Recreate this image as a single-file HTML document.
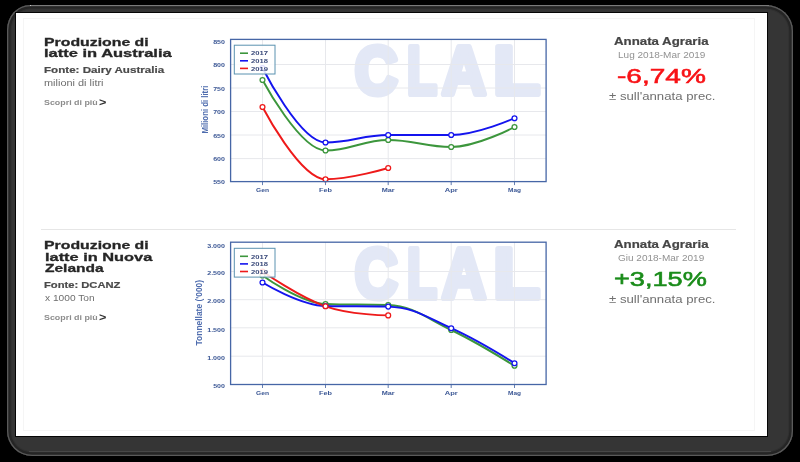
<!DOCTYPE html>
<html lang="it">
<head>
<meta charset="utf-8">
<title>Produzione di latte - Australia e Nuova Zelanda</title>
<style>
html,body{margin:0;padding:0;background:#000;}
body{width:800px;height:462px;position:relative;overflow:hidden;font-family:"Liberation Sans", sans-serif;}
/* dark bevelled device-like frame */
.frame{position:absolute;left:7px;top:4.8px;width:786.3px;height:451px;border-radius:23px 27px 26px 25px / 25px 26px 25px 25px;background:#353535;
  box-shadow:inset 0 0 0 1.3px #5a5a5a, inset 0 0 0 3.6px #252525, inset 0 0 0 4.6px #303030;}
.frame:before{content:"";position:absolute;left:24px;right:24px;top:0;height:1.3px;background:#7a7a7a;}
.frame:after{content:"";position:absolute;left:22px;right:22px;bottom:3.4px;height:1.7px;background:#474747;}
.glint{position:absolute;left:29.6px;top:4.9px;width:1.8px;height:1.2px;background:#e8e8e8;border-radius:1px;}
/* white page inside the frame */
.page{position:absolute;left:16px;top:13px;width:751.4px;height:423px;background:#fff;box-shadow:0 0 0 1px #050505;}
.panel{position:absolute;left:22.6px;top:18.2px;width:732.4px;height:413.3px;border:1px solid #f5f5f5;box-sizing:border-box;}
.sep{position:absolute;left:40.5px;top:229px;width:695.5px;height:1px;background:#e6e6e6;margin:0;border:0;}
/* content: everything is pinned to target pixel positions */
.soft{filter:blur(0.45px);}
.soft h2,.soft h3,.soft p{margin:0;padding:0;font:inherit;}
.soft a{color:inherit;text-decoration:none;}
.t{position:absolute;white-space:pre;line-height:1;transform-origin:0 0;display:block;}
svg.chart{position:absolute;left:0;top:0;}
svg.chart text{font-family:"Liberation Sans", sans-serif;}
</style>
</head>
<body>
<div class="frame"></div>
<div class="glint"></div>
<div class="page"></div>
<div class="panel"></div>
<main class="soft">
<section class="row" id="australia">
<div class="info">
<h2>
<span class="t" style="left:44.34px;top:37px;font-size:11.2px;font-weight:bold;color:#262626;transform:scaleX(1.4152);-webkit-text-stroke:0.3px #262626;">Produzione di</span>
<span class="t" style="left:44.49px;top:48px;font-size:11.2px;font-weight:bold;color:#262626;transform:scaleX(1.4744);-webkit-text-stroke:0.3px #262626;">latte in Australia</span>
</h2>
<p class="src">
<span class="t" style="left:43.86px;top:66px;font-size:9.3px;font-weight:bold;color:#4a4a4a;transform:scaleX(1.2482);-webkit-text-stroke:0.2px #4a4a4a;">Fonte: Dairy Australia</span>
</p>
<p class="unit">
<span class="t" style="left:44.16px;top:79px;font-size:8.5px;font-weight:normal;color:#6e6e6e;transform:scaleX(1.2862);">milioni di litri</span>
</p>
<a class="more">
<span class="t" style="left:44.09px;top:99px;font-size:7.2px;font-weight:bold;color:#8c8c8c;transform:scaleX(1.2351);">Scopri di più</span>
<span class="t" style="left:99.39px;top:98px;font-size:10.4px;font-weight:bold;color:#333;transform:scaleX(1.2190);">></span>
</a>
</div>
<svg class="chart" width="800" height="462" viewBox="0 0 800 462" role="img">
<text class="wm" y="93.90" font-size="69.19" font-weight="bold" fill="#e3e8f6" stroke="#e3e8f6" stroke-width="6.2" stroke-linejoin="round"><tspan x="354.67" textLength="42.86" lengthAdjust="spacingAndGlyphs">C</tspan><tspan x="407.03" textLength="29.88" lengthAdjust="spacingAndGlyphs">L</tspan><tspan x="442.09" textLength="43.92" lengthAdjust="spacingAndGlyphs">A</tspan><tspan x="493.64" textLength="46.18" lengthAdjust="spacingAndGlyphs">L</tspan></text>
<line x1="230.6" x2="546.1" y1="64.5" y2="64.5" stroke="#e7e8ec" stroke-width="1"/>
<line x1="230.6" x2="546.1" y1="88.0" y2="88.0" stroke="#e7e8ec" stroke-width="1"/>
<line x1="230.6" x2="546.1" y1="111.5" y2="111.5" stroke="#e7e8ec" stroke-width="1"/>
<line x1="230.6" x2="546.1" y1="135.0" y2="135.0" stroke="#e7e8ec" stroke-width="1"/>
<line x1="230.6" x2="546.1" y1="158.6" y2="158.6" stroke="#e7e8ec" stroke-width="1"/>
<line x1="262.5" x2="262.5" y1="39.4" y2="185.1" stroke="#e7e8ec" stroke-width="1"/>
<line x1="325.5" x2="325.5" y1="39.4" y2="185.1" stroke="#e7e8ec" stroke-width="1"/>
<line x1="388.2" x2="388.2" y1="39.4" y2="185.1" stroke="#e7e8ec" stroke-width="1"/>
<line x1="451.2" x2="451.2" y1="39.4" y2="185.1" stroke="#e7e8ec" stroke-width="1"/>
<line x1="514.5" x2="514.5" y1="39.4" y2="185.1" stroke="#e7e8ec" stroke-width="1"/>
<path d="M262.50,80.00 C262.50,80.00 300.30,150.50 325.50,150.50 C350.58,150.50 363.12,140.00 388.20,140.00 C413.40,140.00 426.00,147.00 451.20,147.00 C476.52,147.00 514.50,127.00 514.50,127.00" fill="none" stroke="#3c963c" stroke-width="1.95" stroke-linecap="round"/>
<path d="M262.50,68.00 C262.50,68.00 300.30,142.50 325.50,142.50 C350.58,142.50 363.12,135.00 388.20,135.00 C413.40,135.00 426.00,135.00 451.20,135.00 C476.52,135.00 514.50,118.20 514.50,118.20" fill="none" stroke="#1414ee" stroke-width="1.95" stroke-linecap="round"/>
<path d="M262.50,107.00 C262.50,107.00 300.30,179.20 325.50,179.20 C350.58,179.20 388.20,168.00 388.20,168.00" fill="none" stroke="#ee1a1a" stroke-width="1.95" stroke-linecap="round"/>
<circle cx="262.5" cy="80.0" r="2.45" fill="#fff" stroke="#3c963c" stroke-width="1.25"/>
<circle cx="325.5" cy="150.5" r="2.45" fill="#fff" stroke="#3c963c" stroke-width="1.25"/>
<circle cx="388.2" cy="140.0" r="2.45" fill="#fff" stroke="#3c963c" stroke-width="1.25"/>
<circle cx="451.2" cy="147.0" r="2.45" fill="#fff" stroke="#3c963c" stroke-width="1.25"/>
<circle cx="514.5" cy="127.0" r="2.45" fill="#fff" stroke="#3c963c" stroke-width="1.25"/>
<circle cx="262.5" cy="68.0" r="2.45" fill="#fff" stroke="#1414ee" stroke-width="1.25"/>
<circle cx="325.5" cy="142.5" r="2.45" fill="#fff" stroke="#1414ee" stroke-width="1.25"/>
<circle cx="388.2" cy="135.0" r="2.45" fill="#fff" stroke="#1414ee" stroke-width="1.25"/>
<circle cx="451.2" cy="135.0" r="2.45" fill="#fff" stroke="#1414ee" stroke-width="1.25"/>
<circle cx="514.5" cy="118.2" r="2.45" fill="#fff" stroke="#1414ee" stroke-width="1.25"/>
<circle cx="262.5" cy="107.0" r="2.45" fill="#fff" stroke="#ee1a1a" stroke-width="1.25"/>
<circle cx="325.5" cy="179.2" r="2.45" fill="#fff" stroke="#ee1a1a" stroke-width="1.25"/>
<circle cx="388.2" cy="168.0" r="2.45" fill="#fff" stroke="#ee1a1a" stroke-width="1.25"/>
<rect x="230.6" y="39.4" width="315.5" height="142.2" fill="none" stroke="#4666a6" stroke-width="1.3"/>
<line x1="262.5" x2="262.5" y1="181.6" y2="185.1" stroke="#4666a6" stroke-width="0.8"/>
<line x1="325.5" x2="325.5" y1="181.6" y2="185.1" stroke="#4666a6" stroke-width="0.8"/>
<line x1="388.2" x2="388.2" y1="181.6" y2="185.1" stroke="#4666a6" stroke-width="0.8"/>
<line x1="451.2" x2="451.2" y1="181.6" y2="185.1" stroke="#4666a6" stroke-width="0.8"/>
<line x1="514.5" x2="514.5" y1="181.6" y2="185.1" stroke="#4666a6" stroke-width="0.8"/>
<rect x="234.3" y="45.2" width="40.7" height="28.8" fill="#fff" fill-opacity="0.86" stroke="#5a92b0" stroke-width="1"/>
<line x1="240" x2="248" y1="53.2" y2="53.2" stroke="#3c963c" stroke-width="1.6"/>
<text x="251" y="55.4" font-size="6.2" font-weight="bold" fill="#3a4a7a" textLength="17" lengthAdjust="spacingAndGlyphs">2017</text>
<line x1="240" x2="248" y1="60.8" y2="60.8" stroke="#1414ee" stroke-width="1.6"/>
<text x="251" y="63.0" font-size="6.2" font-weight="bold" fill="#3a4a7a" textLength="17" lengthAdjust="spacingAndGlyphs">2018</text>
<line x1="240" x2="248" y1="68.4" y2="68.4" stroke="#ee1a1a" stroke-width="1.6"/>
<text x="251" y="70.6" font-size="6.2" font-weight="bold" fill="#3a4a7a" textLength="17" lengthAdjust="spacingAndGlyphs">2019</text>
<text x="213.2" y="43.9" font-size="5.9" font-weight="bold" fill="#3a5694" textLength="11.8" lengthAdjust="spacingAndGlyphs">850</text>
<text x="213.2" y="67.2" font-size="5.9" font-weight="bold" fill="#3a5694" textLength="11.8" lengthAdjust="spacingAndGlyphs">800</text>
<text x="213.2" y="90.7" font-size="5.9" font-weight="bold" fill="#3a5694" textLength="11.8" lengthAdjust="spacingAndGlyphs">750</text>
<text x="213.2" y="114.2" font-size="5.9" font-weight="bold" fill="#3a5694" textLength="11.8" lengthAdjust="spacingAndGlyphs">700</text>
<text x="213.2" y="137.7" font-size="5.9" font-weight="bold" fill="#3a5694" textLength="11.8" lengthAdjust="spacingAndGlyphs">650</text>
<text x="213.2" y="161.3" font-size="5.9" font-weight="bold" fill="#3a5694" textLength="11.8" lengthAdjust="spacingAndGlyphs">600</text>
<text x="213.2" y="184.3" font-size="5.9" font-weight="bold" fill="#3a5694" textLength="11.8" lengthAdjust="spacingAndGlyphs">550</text>
<text x="256.0" y="192.2" font-size="5.9" font-weight="bold" fill="#3a5694" textLength="13" lengthAdjust="spacingAndGlyphs">Gen</text>
<text x="319.0" y="192.2" font-size="5.9" font-weight="bold" fill="#3a5694" textLength="13" lengthAdjust="spacingAndGlyphs">Feb</text>
<text x="381.7" y="192.2" font-size="5.9" font-weight="bold" fill="#3a5694" textLength="13" lengthAdjust="spacingAndGlyphs">Mar</text>
<text x="444.7" y="192.2" font-size="5.9" font-weight="bold" fill="#3a5694" textLength="13" lengthAdjust="spacingAndGlyphs">Apr</text>
<text x="508.0" y="192.2" font-size="5.9" font-weight="bold" fill="#3a5694" textLength="13" lengthAdjust="spacingAndGlyphs">Mag</text>
<text transform="translate(207.9,133.6) rotate(-90)" font-size="8.8" font-weight="bold" fill="#4e6cae" textLength="48" lengthAdjust="spacingAndGlyphs">Milioni di litri</text>
</svg>
<div class="stat">
<h3>
<span class="t" style="left:613.88px;top:37px;font-size:10.4px;font-weight:bold;color:#464646;transform:scaleX(1.2757);-webkit-text-stroke:0.2px #464646;">Annata Agraria</span>
</h3>
<p class="period">
<span class="t" style="left:618.09px;top:51px;font-size:8.3px;font-weight:normal;color:#929292;transform:scaleX(1.2070);">Lug 2018-Mar 2019</span>
</p>
<p class="value">
<span class="t" style="left:616.93px;top:67px;font-size:19.6px;font-weight:normal;color:#f81216;transform:scaleX(1.4321);-webkit-text-stroke:0.55px #f81216;">-6,74%</span>
</p>
<p class="note">
<span class="t" style="left:608.68px;top:92px;font-size:10.4px;font-weight:normal;color:#707070;transform:scaleX(1.2689);">± sull'annata prec.</span>
</p>
</div>
</section>
<hr class="sep">
<section class="row" id="nuova-zelanda">
<div class="info">
<h2>
<span class="t" style="left:44.34px;top:240px;font-size:11.2px;font-weight:bold;color:#262626;transform:scaleX(1.4152);-webkit-text-stroke:0.3px #262626;">Produzione di</span>
<span class="t" style="left:44.50px;top:252px;font-size:11.2px;font-weight:bold;color:#262626;transform:scaleX(1.4625);-webkit-text-stroke:0.3px #262626;">latte in Nuova</span>
<span class="t" style="left:44.85px;top:263px;font-size:11.2px;font-weight:bold;color:#262626;transform:scaleX(1.3870);-webkit-text-stroke:0.3px #262626;">Zelanda</span>
</h2>
<p class="src">
<span class="t" style="left:43.90px;top:281px;font-size:9.3px;font-weight:bold;color:#4a4a4a;transform:scaleX(1.2032);-webkit-text-stroke:0.2px #4a4a4a;">Fonte: DCANZ</span>
</p>
<p class="unit">
<span class="t" style="left:44.50px;top:294px;font-size:8.5px;font-weight:normal;color:#6e6e6e;transform:scaleX(1.1975);">x 1000 Ton</span>
</p>
<a class="more">
<span class="t" style="left:44.09px;top:314px;font-size:7.2px;font-weight:bold;color:#8c8c8c;transform:scaleX(1.2351);">Scopri di più</span>
<span class="t" style="left:99.39px;top:313px;font-size:10.4px;font-weight:bold;color:#333;transform:scaleX(1.2190);">></span>
</a>
</div>
<svg class="chart" width="800" height="462" viewBox="0 0 800 462" role="img">
<text class="wm" y="297.90" font-size="70.93" font-weight="bold" fill="#e3e8f6" stroke="#e3e8f6" stroke-width="6.2" stroke-linejoin="round"><tspan x="354.67" textLength="42.86" lengthAdjust="spacingAndGlyphs">C</tspan><tspan x="407.03" textLength="29.88" lengthAdjust="spacingAndGlyphs">L</tspan><tspan x="442.09" textLength="43.92" lengthAdjust="spacingAndGlyphs">A</tspan><tspan x="493.64" textLength="46.18" lengthAdjust="spacingAndGlyphs">L</tspan></text>
<line x1="230.6" x2="546.1" y1="271.5" y2="271.5" stroke="#e7e8ec" stroke-width="1"/>
<line x1="230.6" x2="546.1" y1="299.7" y2="299.7" stroke="#e7e8ec" stroke-width="1"/>
<line x1="230.6" x2="546.1" y1="327.8" y2="327.8" stroke="#e7e8ec" stroke-width="1"/>
<line x1="230.6" x2="546.1" y1="356.2" y2="356.2" stroke="#e7e8ec" stroke-width="1"/>
<line x1="262.5" x2="262.5" y1="242.2" y2="388.0" stroke="#e7e8ec" stroke-width="1"/>
<line x1="325.5" x2="325.5" y1="242.2" y2="388.0" stroke="#e7e8ec" stroke-width="1"/>
<line x1="388.2" x2="388.2" y1="242.2" y2="388.0" stroke="#e7e8ec" stroke-width="1"/>
<line x1="451.2" x2="451.2" y1="242.2" y2="388.0" stroke="#e7e8ec" stroke-width="1"/>
<line x1="514.5" x2="514.5" y1="242.2" y2="388.0" stroke="#e7e8ec" stroke-width="1"/>
<path d="M262.50,275.50 C262.50,275.50 300.30,303.00 325.50,304.00 C350.58,305.00 363.12,304.00 388.20,305.00 C413.40,306.00 426.00,317.87 451.20,330.00 C476.52,342.19 514.50,365.80 514.50,365.80" fill="none" stroke="#3c963c" stroke-width="1.95" stroke-linecap="round"/>
<path d="M262.50,282.50 C262.50,282.50 300.30,305.40 325.50,306.00 C350.58,306.60 363.12,306.00 388.20,306.60 C413.40,307.20 426.00,316.91 451.20,328.20 C476.52,339.55 514.50,363.20 514.50,363.20" fill="none" stroke="#1414ee" stroke-width="1.95" stroke-linecap="round"/>
<path d="M262.50,271.50 C262.50,271.50 300.30,297.50 325.50,306.30 C350.58,315.06 388.20,315.40 388.20,315.40" fill="none" stroke="#ee1a1a" stroke-width="1.95" stroke-linecap="round"/>
<circle cx="262.5" cy="275.5" r="2.45" fill="#fff" stroke="#3c963c" stroke-width="1.25"/>
<circle cx="325.5" cy="304.0" r="2.45" fill="#fff" stroke="#3c963c" stroke-width="1.25"/>
<circle cx="388.2" cy="305.0" r="2.45" fill="#fff" stroke="#3c963c" stroke-width="1.25"/>
<circle cx="451.2" cy="330.0" r="2.45" fill="#fff" stroke="#3c963c" stroke-width="1.25"/>
<circle cx="514.5" cy="365.8" r="2.45" fill="#fff" stroke="#3c963c" stroke-width="1.25"/>
<circle cx="262.5" cy="282.5" r="2.45" fill="#fff" stroke="#1414ee" stroke-width="1.25"/>
<circle cx="325.5" cy="306.0" r="2.45" fill="#fff" stroke="#1414ee" stroke-width="1.25"/>
<circle cx="388.2" cy="306.6" r="2.45" fill="#fff" stroke="#1414ee" stroke-width="1.25"/>
<circle cx="451.2" cy="328.2" r="2.45" fill="#fff" stroke="#1414ee" stroke-width="1.25"/>
<circle cx="514.5" cy="363.2" r="2.45" fill="#fff" stroke="#1414ee" stroke-width="1.25"/>
<circle cx="262.5" cy="271.5" r="2.45" fill="#fff" stroke="#ee1a1a" stroke-width="1.25"/>
<circle cx="325.5" cy="306.3" r="2.45" fill="#fff" stroke="#ee1a1a" stroke-width="1.25"/>
<circle cx="388.2" cy="315.4" r="2.45" fill="#fff" stroke="#ee1a1a" stroke-width="1.25"/>
<rect x="230.6" y="242.2" width="315.5" height="142.3" fill="none" stroke="#4666a6" stroke-width="1.3"/>
<line x1="262.5" x2="262.5" y1="384.5" y2="388.0" stroke="#4666a6" stroke-width="0.8"/>
<line x1="325.5" x2="325.5" y1="384.5" y2="388.0" stroke="#4666a6" stroke-width="0.8"/>
<line x1="388.2" x2="388.2" y1="384.5" y2="388.0" stroke="#4666a6" stroke-width="0.8"/>
<line x1="451.2" x2="451.2" y1="384.5" y2="388.0" stroke="#4666a6" stroke-width="0.8"/>
<line x1="514.5" x2="514.5" y1="384.5" y2="388.0" stroke="#4666a6" stroke-width="0.8"/>
<rect x="234.3" y="248.3" width="40.7" height="28.8" fill="#fff" fill-opacity="0.86" stroke="#5a92b0" stroke-width="1"/>
<line x1="240" x2="248" y1="256.3" y2="256.3" stroke="#3c963c" stroke-width="1.6"/>
<text x="251" y="258.5" font-size="6.2" font-weight="bold" fill="#3a4a7a" textLength="17" lengthAdjust="spacingAndGlyphs">2017</text>
<line x1="240" x2="248" y1="263.9" y2="263.9" stroke="#1414ee" stroke-width="1.6"/>
<text x="251" y="266.1" font-size="6.2" font-weight="bold" fill="#3a4a7a" textLength="17" lengthAdjust="spacingAndGlyphs">2018</text>
<line x1="240" x2="248" y1="271.5" y2="271.5" stroke="#ee1a1a" stroke-width="1.6"/>
<text x="251" y="273.7" font-size="6.2" font-weight="bold" fill="#3a4a7a" textLength="17" lengthAdjust="spacingAndGlyphs">2019</text>
<text x="207.2" y="247.7" font-size="5.9" font-weight="bold" fill="#3a5694" textLength="17.8" lengthAdjust="spacingAndGlyphs">3.000</text>
<text x="207.2" y="275.2" font-size="5.9" font-weight="bold" fill="#3a5694" textLength="17.8" lengthAdjust="spacingAndGlyphs">2.500</text>
<text x="207.2" y="303.4" font-size="5.9" font-weight="bold" fill="#3a5694" textLength="17.8" lengthAdjust="spacingAndGlyphs">2.000</text>
<text x="207.2" y="331.5" font-size="5.9" font-weight="bold" fill="#3a5694" textLength="17.8" lengthAdjust="spacingAndGlyphs">1.500</text>
<text x="207.2" y="359.9" font-size="5.9" font-weight="bold" fill="#3a5694" textLength="17.8" lengthAdjust="spacingAndGlyphs">1.000</text>
<text x="213.2" y="388.2" font-size="5.9" font-weight="bold" fill="#3a5694" textLength="11.8" lengthAdjust="spacingAndGlyphs">500</text>
<text x="256.0" y="395.1" font-size="5.9" font-weight="bold" fill="#3a5694" textLength="13" lengthAdjust="spacingAndGlyphs">Gen</text>
<text x="319.0" y="395.1" font-size="5.9" font-weight="bold" fill="#3a5694" textLength="13" lengthAdjust="spacingAndGlyphs">Feb</text>
<text x="381.7" y="395.1" font-size="5.9" font-weight="bold" fill="#3a5694" textLength="13" lengthAdjust="spacingAndGlyphs">Mar</text>
<text x="444.7" y="395.1" font-size="5.9" font-weight="bold" fill="#3a5694" textLength="13" lengthAdjust="spacingAndGlyphs">Apr</text>
<text x="508.0" y="395.1" font-size="5.9" font-weight="bold" fill="#3a5694" textLength="13" lengthAdjust="spacingAndGlyphs">Mag</text>
<text transform="translate(201.5,345.4) rotate(-90)" font-size="8.8" font-weight="bold" fill="#4e6cae" textLength="65.5" lengthAdjust="spacingAndGlyphs">Tonnellate ('000)</text>
</svg>
<div class="stat">
<h3>
<span class="t" style="left:613.88px;top:240px;font-size:10.4px;font-weight:bold;color:#464646;transform:scaleX(1.2757);-webkit-text-stroke:0.2px #464646;">Annata Agraria</span>
</h3>
<p class="period">
<span class="t" style="left:618.40px;top:254px;font-size:8.3px;font-weight:normal;color:#929292;transform:scaleX(1.2057);">Giu 2018-Mar 2019</span>
</p>
<p class="value">
<span class="t" style="left:614.21px;top:270px;font-size:19.6px;font-weight:normal;color:#1a8c1a;transform:scaleX(1.3854);-webkit-text-stroke:0.55px #1a8c1a;">+3,15%</span>
</p>
<p class="note">
<span class="t" style="left:608.68px;top:295px;font-size:10.4px;font-weight:normal;color:#707070;transform:scaleX(1.2689);">± sull'annata prec.</span>
</p>
</div>
</section>
</main>
</body>
</html>
